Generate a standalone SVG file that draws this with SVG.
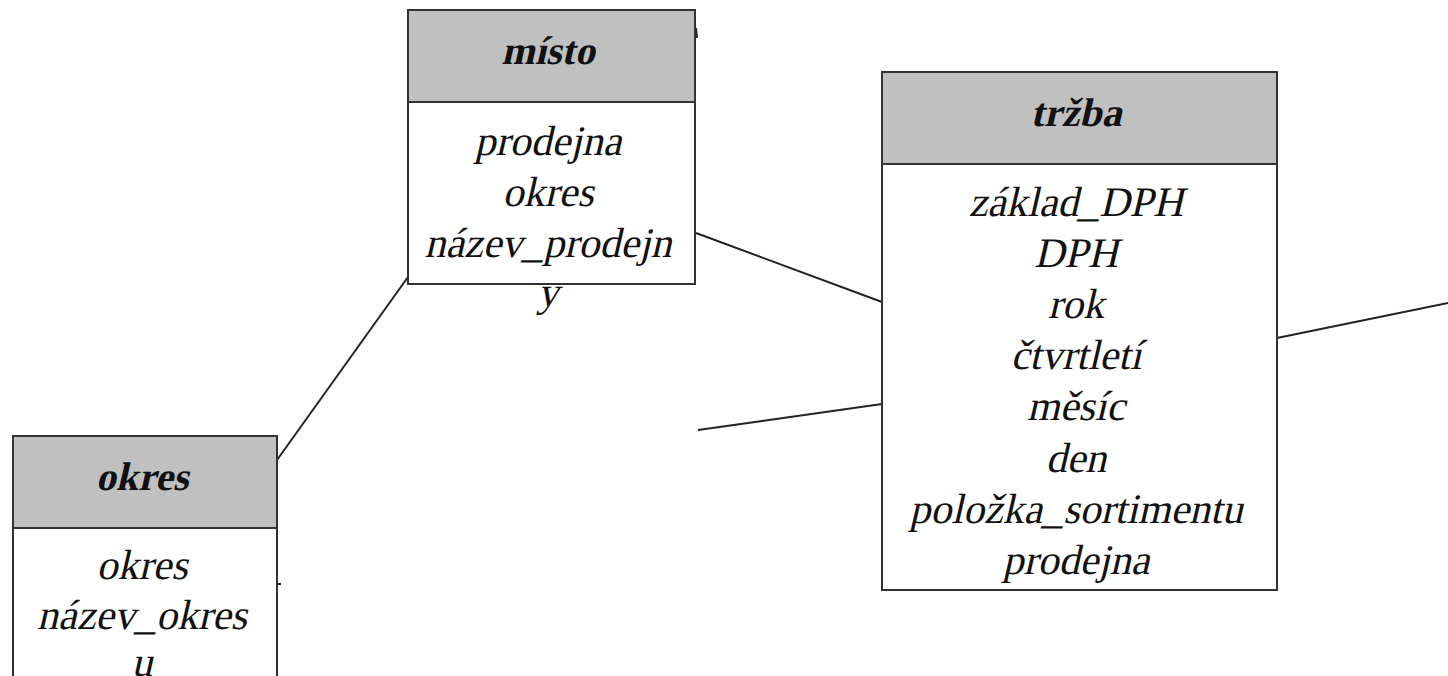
<svg xmlns="http://www.w3.org/2000/svg" width="1448" height="676" viewBox="0 0 1448 676">
<style>
.box{fill:#ffffff;stroke:#333333;stroke-width:2}
.hdr{fill:#c0c0c0;stroke:#333333;stroke-width:2}
.t{font-family:'Liberation Serif',serif;font-size:42px;fill:#111111;text-anchor:middle}
.h{font-family:'Liberation Serif',serif;font-weight:bold;font-size:40px;fill:#111111;text-anchor:middle}
.c{stroke:#222222;stroke-width:2;fill:none}
</style>
<rect width="1448" height="676" fill="#ffffff"/>
<g id="connectors">
<line class="c" x1="696" y1="233" x2="882" y2="302"/>
<line class="c" x1="277" y1="460" x2="408" y2="277"/>
<line class="c" x1="698" y1="430" x2="882" y2="404"/>
<line class="c" x1="1277" y1="338" x2="1448" y2="303"/>
<line class="c" x1="277" y1="584" x2="281" y2="584"/>
<line class="c" x1="696" y1="28" x2="697" y2="38"/>
</g>
<g id="misto">
<rect class="box" x="408" y="10" width="287" height="274"/>
<rect class="hdr" x="408" y="10" width="287" height="92"/>
<text class="h" transform="translate(548 64) skewX(-13)">místo</text>
<text class="t" transform="translate(548 155) skewX(-13)">prodejna</text>
<text class="t" transform="translate(548 206) skewX(-13)">okres</text>
<text class="t" transform="translate(548 257) skewX(-13)">název_prodejn</text>
<text class="t" transform="translate(548 306) skewX(-13)">y</text>
</g>
<g id="okres">
<rect class="box" x="13" y="436" width="264" height="260"/>
<rect class="hdr" x="13" y="436" width="264" height="92"/>
<text class="h" transform="translate(142 490) skewX(-13)">okres</text>
<text class="t" transform="translate(142 579) skewX(-13)">okres</text>
<text class="t" transform="translate(142 629) skewX(-13)">název_okres</text>
<text class="t" transform="translate(142 676) skewX(-13)">u</text>
</g>
<g id="trzba">
<rect class="box" x="882" y="72" width="395" height="518"/>
<rect class="hdr" x="882" y="72" width="395" height="92"/>
<text class="h" transform="translate(1076 126) skewX(-13)">tržba</text>
<text class="t" transform="translate(1076 216) skewX(-13)">základ_DPH</text>
<text class="t" transform="translate(1076 267) skewX(-13)">DPH</text>
<text class="t" transform="translate(1076 318) skewX(-13)">rok</text>
<text class="t" transform="translate(1076 369) skewX(-13)">čtvrtletí</text>
<text class="t" transform="translate(1076 420) skewX(-13)">měsíc</text>
<text class="t" transform="translate(1076 472) skewX(-13)">den</text>
<text class="t" transform="translate(1076 523) skewX(-13)">položka_sortimentu</text>
<text class="t" transform="translate(1076 574) skewX(-13)">prodejna</text>
</g>
</svg>
